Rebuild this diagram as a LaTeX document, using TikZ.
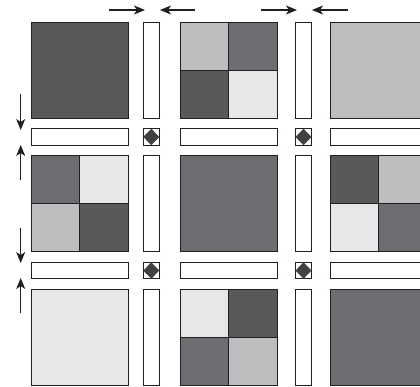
\documentclass[tikz,border=0pt]{standalone}
\usetikzlibrary{arrows.meta}
\definecolor{cdark}{HTML}{58595B}
\definecolor{cmed}{HTML}{6D6E71}
\definecolor{clight}{HTML}{BCBEC0}
\definecolor{cvlight}{HTML}{E6E7E8}
\definecolor{cdia}{HTML}{414042}
\definecolor{cline}{HTML}{231F20}
\tikzset{
  blk/.style={draw=cline, line width=0.9pt, rectangle, inner sep=0pt, outer sep=0pt, anchor=north west},
  fullblk/.style={blk, minimum width=97pt, minimum height=96pt},
  quadblk/.style={blk, minimum width=48.5pt, minimum height=48pt},
  vbar/.style={blk, fill=white, minimum width=16pt, minimum height=96pt},
  hbar/.style={blk, fill=white, minimum width=97pt, minimum height=16.5pt},
  crossbox/.style={blk, fill=white, minimum width=16pt, minimum height=16.5pt},
  arr/.style={-{Stealth[length=11pt,width=9pt,inset=3pt]}, line width=1.1pt, cline}
}
\begin{document}
\begin{tikzpicture}[x=1pt,y=-1pt]
\useasboundingbox (0,0) rectangle (420,386);
\clip (0,0) rectangle (420,386);
% column and row origins
\def\cA{31}\def\cB{180}\def\cC{330}
\def\rA{22.3}\def\rB{155.7}\def\rC{289}
% Row 1
\node[fullblk, fill=cdark] (b11) at (\cA,\rA) {};
\node[quadblk, fill=clight]  (b12a) at (\cB,\rA) {};
\node[quadblk, fill=cmed]    (b12b) at (\cB+48.5,\rA) {};
\node[quadblk, fill=cdark]   (b12c) at (\cB,\rA+48) {};
\node[quadblk, fill=cvlight] (b12d) at (\cB+48.5,\rA+48) {};
\node[fullblk, fill=clight] (b13) at (\cC,\rA) {};
% Row 2
\node[quadblk, fill=cmed]    (b21a) at (\cA,\rB) {};
\node[quadblk, fill=cvlight] (b21b) at (\cA+48.5,\rB) {};
\node[quadblk, fill=clight]  (b21c) at (\cA,\rB+48) {};
\node[quadblk, fill=cdark]   (b21d) at (\cA+48.5,\rB+48) {};
\node[fullblk, fill=cmed] (b22) at (\cB,\rB) {};
\node[quadblk, fill=cdark]   (b23a) at (\cC,\rB) {};
\node[quadblk, fill=clight]  (b23b) at (\cC+48.5,\rB) {};
\node[quadblk, fill=cvlight] (b23c) at (\cC,\rB+48) {};
\node[quadblk, fill=cmed]    (b23d) at (\cC+48.5,\rB+48) {};
% Row 3
\node[fullblk, fill=cvlight] (b31) at (\cA,\rC) {};
\node[quadblk, fill=cvlight] (b32a) at (\cB,\rC) {};
\node[quadblk, fill=cdark]   (b32b) at (\cB+48.5,\rC) {};
\node[quadblk, fill=cmed]    (b32c) at (\cB,\rC+48) {};
\node[quadblk, fill=clight]  (b32d) at (\cB+48.5,\rC+48) {};
\node[fullblk, fill=cmed] (b33) at (\cC,\rC) {};
% vertical bars
\foreach \x/\i in {143.3/1,295.5/2}{
  \foreach \y/\j in {\rA/1,\rB/2,\rC/3}{
    \node[vbar] (v\i\j) at (\x,\y) {};
  }
}
% horizontal bars
\foreach \y/\j in {128.7/1,262.3/2}{
  \foreach \x/\i in {\cA/1,\cB/2,\cC/3}{
    \node[hbar] (h\j\i) at (\x,\y) {};
  }
}
% crossing boxes with diamonds
\foreach \x/\i in {143.3/1,295.5/2}{
  \foreach \y/\j in {128.7/1,262.3/2}{
    \node[crossbox] (x\i\j) at (\x,\y) {};
    \fill[cdia] (x\i\j.north) -- (x\i\j.east) -- (x\i\j.south) -- (x\i\j.west) -- cycle;
  }
}
% arrows top
\coordinate (t1s) at (109,10); \coordinate (t1e) at (145,10);
\coordinate (t2s) at (195,10); \coordinate (t2e) at (160,10);
\coordinate (t3s) at (261,10); \coordinate (t3e) at (297,10);
\coordinate (t4s) at (348,10); \coordinate (t4e) at (312,10);
\draw[arr] (t1s) -- (t1e);
\draw[arr] (t2s) -- (t2e);
\draw[arr] (t3s) -- (t3e);
\draw[arr] (t4s) -- (t4e);
% arrows left
\coordinate (l1s) at (20.7,94);  \coordinate (l1e) at (20.7,130);
\coordinate (l2s) at (20.7,180); \coordinate (l2e) at (20.7,145);
\coordinate (l3s) at (20.7,228); \coordinate (l3e) at (20.7,263);
\coordinate (l4s) at (20.7,313); \coordinate (l4e) at (20.7,278);
\draw[arr] (l1s) -- (l1e);
\draw[arr] (l2s) -- (l2e);
\draw[arr] (l3s) -- (l3e);
\draw[arr] (l4s) -- (l4e);
\end{tikzpicture}
\end{document}
